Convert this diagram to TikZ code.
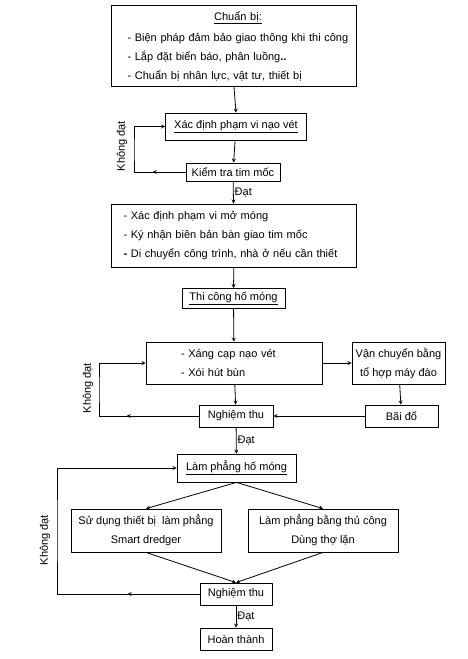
\documentclass[tikz,border=0pt]{standalone}
\usepackage{fontspec}
\setmainfont{Liberation Sans}
\usetikzlibrary{decorations.markings}
\tikzset{>=stealth}
\tikzset{
  box/.style={draw,line width=0.8pt,inner sep=0pt,font=\fontsize{11}{19}\selectfont},
  lbl/.style={inner sep=1pt,font=\fontsize{11}{12}\selectfont},
  midarr/.style={postaction={decorate},decoration={markings,mark=at position #1 with {\arrow{>}}}}
}

\begin{document}
\begin{tikzpicture}[x=1pt,y=-1pt,line width=0.8pt]
      \useasboundingbox (0,0) rectangle (467,659);
      % chuan bi
      \node[box,minimum width=245,minimum height=81,text width=229,inner xsep=8,align=left] (cb) at (234,46)
        {\centerline{\hspace*{8pt}\underline{Chuẩn bị:}}\\[2pt]
         \hspace*{8pt}- Biện pháp đảm bảo giao thông khi thi công\\
         \hspace*{8pt}- Lắp đặt biển báo, phân luồng\textbf{..}\\
         \hspace*{8pt}- Chuẩn bị nhân lực, vật tư, thiết bị};
      \node[box,minimum width=141,minimum height=27] (xd) at (236,126.5) {\underline{Xác định phạm vi nạo vét}};
      \node[box,minimum width=94,minimum height=18] (kt) at (233,172) {Kiểm tra tim mốc};
      \node[box,minimum width=245,minimum height=63,text width=221,inner xsep=12,align=left] (mm) at (234,235.5)
        {- Xác định phạm vi mở móng\\
         - Ký nhận biên bản bàn giao tim mốc\\
         \textbf{-} Di chuyển công trình, nhà ở nếu cần thiết};
      \node[box,minimum width=103,minimum height=20] (tc) at (233.5,298.5) {\underline{Thi công hố móng}};
      % thi cong
      \node[box,minimum width=176,minimum height=42,text width=106,inner xsep=35,align=left] (xc) at (234,363)
        {- Xáng cạp nạo vét\\- Xói hút bùn};
      \node[box,minimum width=93,minimum height=42,align=center] (vc) at (398.5,363)
        {Vận chuyển bằng\\tổ hợp máy đào};
      \node[box,minimum width=74,minimum height=22] (nt1) at (236,416) {Nghiệm thu};
      \node[box,minimum width=73,minimum height=22] (bd) at (401.5,416) {Bãi đổ};
      % lam phang
      \node[box,minimum width=119,minimum height=28] (lp) at (236.5,468) {\underline{Làm phẳng hố móng}};
      \node[box,minimum width=150,minimum height=43,align=center] (sd) at (146,530.5)
        {Sử dụng thiết bị\ \ làm phẳng\\Smart dredger};
      \node[box,minimum width=150,minimum height=43,align=center] (tl) at (323,530.5)
        {Làm phẳng bằng thủ công\\Dùng thợ lặn};
      \node[box,minimum width=72,minimum height=22] (nt2) at (236,594) {Nghiệm thu};
      \node[box,minimum width=72,minimum height=22] (ht) at (236,639) {Hoàn thành};

      \coordinate (k1) at (134,150);
      \coordinate (k2) at (99,390);
      \coordinate (k3) at (57,530);

      \draw[->] (cb.south) -- (xd.north);
      \draw[->] (xd) -- (kt);
      \draw[->] (kt) -- node[lbl,right] {Đạt} (mm);
      \draw[->] (mm) -- (tc);
      \draw[->] (tc) -- (xc);
      \draw[->] (xc) -- (vc);
      \draw[->] (vc) -- (bd);
      \draw[->] (bd) -- (nt1);
      \draw[->] (xc) -- (nt1);
      \draw[->] (nt1) -- node[lbl,right] {Đạt} (lp);
      \draw[->] (lp.south) -- (sd.north);
      \draw[->] (lp.south) -- (tl.north);
      \draw[->] (sd.south) -- (nt2.north);
      \draw[->] (tl.south) -- (nt2.north);
      \draw[->] (nt2) -- node[lbl,right] {Đạt} (ht);

      % vong khong dat
      \draw[->,midarr=33pt] (kt.west) -| (k1) |- (xd.west);
      \draw[->,midarr=72pt] (nt1.west) -| (k2) |- (xc.west);
      \draw[->,midarr=72pt] (nt2.west) -| (k3) |- (lp.west);
      \node[lbl,rotate=90] (kd1) at (122,146) {Không đạt};
      \node[lbl,rotate=90] (kd2) at (88,388) {Không đạt};
      \node[lbl,rotate=90] (kd3) at (45,540) {Không đạt};
    \end{tikzpicture}
\end{document}
